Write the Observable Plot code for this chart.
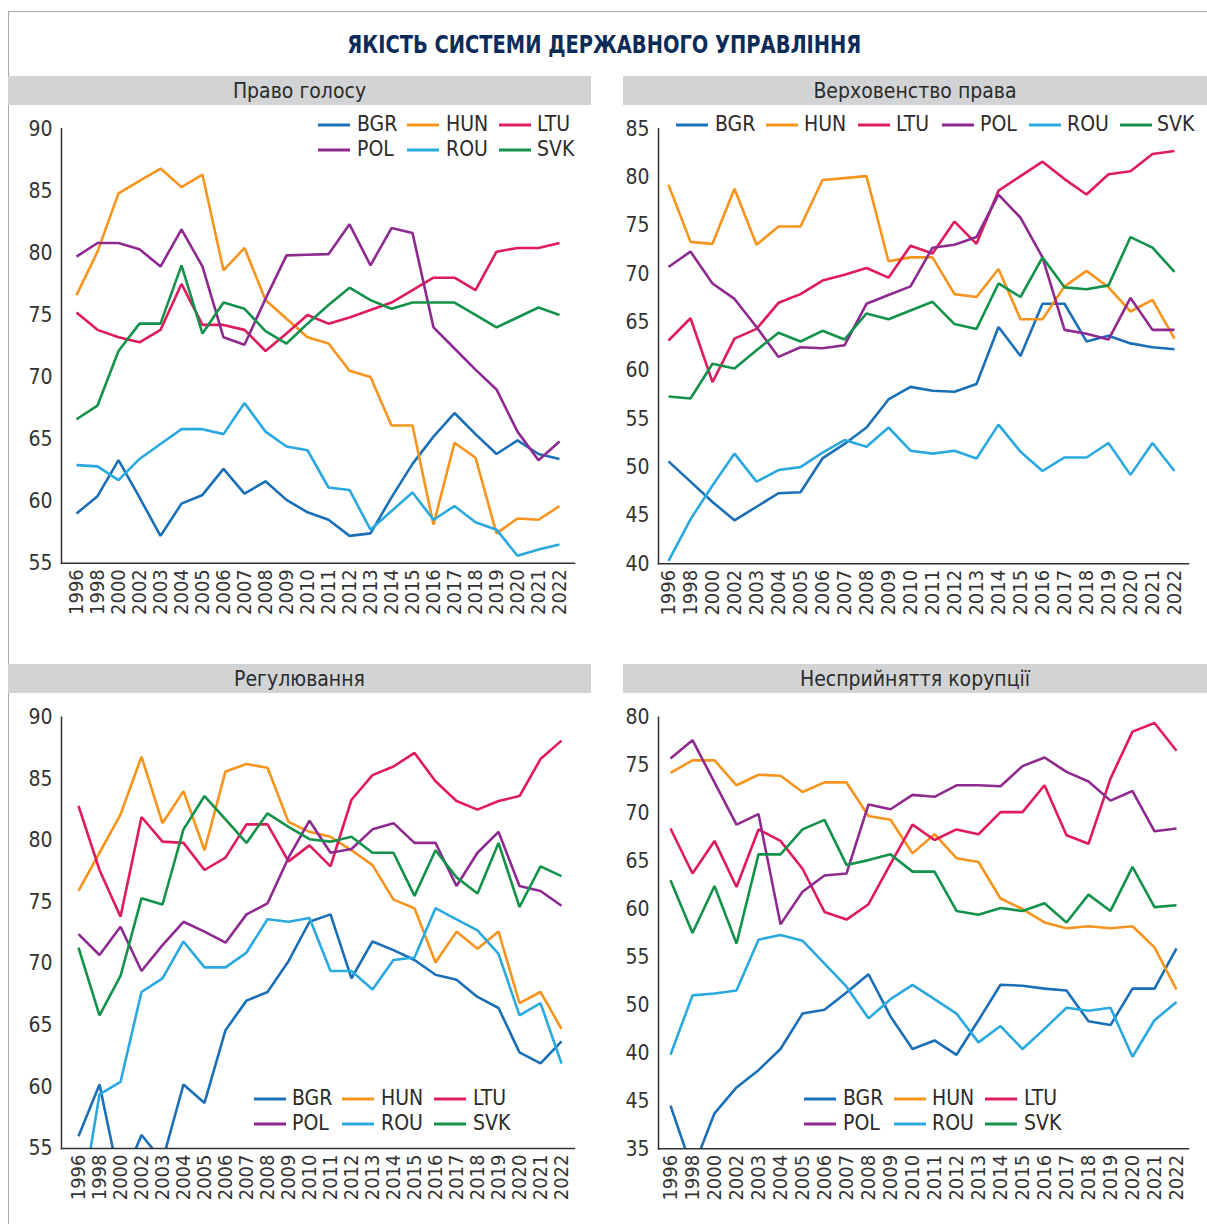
<!DOCTYPE html>
<html>
<head>
<meta charset="utf-8">
<script src="https://cdn.jsdelivr.net/npm/d3@7"></script>
<script src="https://cdn.jsdelivr.net/npm/@observablehq/plot@0.6"></script>
<style>
  html, body { margin: 0; padding: 0; background: #fff; }
  #root { position: relative; width: 1207px; height: 1224px; overflow: hidden; background: #fff;
    font-family: "Liberation Sans Narrow", "DejaVu Sans Condensed", "Roboto", sans-serif; }
  .frame-top { position: absolute; left: 8px; top: 11px; width: 1199px; height: 0; border-top: 1.5px solid #a7a9ac; }
  .frame-left { position: absolute; left: 7.5px; top: 11px; width: 0; height: 1213px; border-left: 1.5px solid #a7a9ac; }
  .title { position: absolute; left: 0; width: 1207px; top: 31px; text-align: center; font-weight: bold;
    font-size: 24px; color: #0b2b59; transform: scaleX(0.9); transform-origin: 612px 0; }
  .bar { position: absolute; height: 29px; background: #d1d3d4; color: #2b2b2b; font-size: 21px;
    text-align: center; line-height: 30px; }
  .panel { position: absolute; }
</style>
</head>
<body>
<div id="root">
  <div class="frame-top"></div>
  <div class="frame-left"></div>
  <div class="title">ЯКІСТЬ СИСТЕМИ ДЕРЖАВНОГО УПРАВЛІННЯ</div>
</div>
<script>
// ---------- data ----------
const years = ["1996","1998","2000","2002","2003","2004","2005","2006","2007","2008","2009","2010","2011","2012","2013","2014","2015","2016","2017","2018","2019","2020","2021","2022"];
const countries = ["BGR","HUN","LTU","POL","ROU","SVK"];
const colors = ["#1a6fb7","#f7941d","#e01a5b","#8e2a8f","#2aa9e0","#12924a"];
const panelTitles = ["Право голосу","Верховенство права","Регулювання","Несприйняття корупції"];

// Право голосу (Voice and accountability)
const voiceBGR = [59.0,60.4,63.3,60.3,57.2,59.8,60.5,62.6,60.6,61.6,60.1,59.1,58.5,57.2,57.4,60.3,63.0,65.2,67.1,65.4,63.8,64.9,63.8,63.4];
const voiceHUN = [76.6,80.1,84.8,85.8,86.8,85.3,86.3,78.6,80.4,76.2,74.7,73.2,72.7,70.5,70.0,66.1,66.1,58.1,64.7,63.5,57.4,58.6,58.5,59.6];
const voiceLTU = [75.2,73.8,73.2,72.8,73.8,77.5,74.2,74.2,73.8,72.1,73.5,75.0,74.3,74.8,75.4,76.0,77.0,78.0,78.0,77.0,80.1,80.4,80.4,80.8];
const voicePOL = [79.7,80.8,80.8,80.3,78.9,81.9,78.9,73.2,72.6,76.3,79.8,79.85,79.9,82.3,79.0,82.0,81.6,74.0,72.3,70.6,69.0,65.6,63.3,64.8];
const voiceROU = [62.9,62.8,61.7,63.4,64.6,65.8,65.8,65.4,67.9,65.6,64.4,64.1,61.1,60.9,57.7,59.2,60.7,58.5,59.6,58.3,57.7,55.6,56.1,56.5];
const voiceSVK = [66.6,67.7,72.1,74.3,74.3,79.0,73.5,76.0,75.5,73.7,72.7,74.3,75.8,77.2,76.2,75.5,76.0,76.0,76.0,75.0,74.0,74.8,75.6,75.0];

// Верховенство права (Rule of law)
const lawBGR = [50.6,48.5,46.4,44.5,45.9,47.3,47.4,50.9,52.4,54.1,57.0,58.3,57.9,57.8,58.6,64.5,61.5,66.9,66.9,63.0,63.6,62.8,62.4,62.2];
const lawHUN = [79.2,73.3,73.1,78.8,73.0,74.9,74.9,79.7,79.9,80.1,71.3,71.7,71.7,67.9,67.6,70.5,65.3,65.3,68.7,70.3,68.6,66.1,67.3,63.3];
const lawLTU = [63.1,65.4,58.8,63.3,64.3,67.0,67.9,69.3,69.9,70.6,69.6,72.9,72.1,75.4,73.1,78.6,80.1,81.6,79.8,78.2,80.3,80.6,82.4,82.7];
const lawPOL = [70.7,72.3,69.0,67.4,64.5,61.4,62.4,62.3,62.6,66.9,67.8,68.7,72.7,73.0,73.8,78.2,75.8,71.7,64.2,63.8,63.2,67.5,64.2,64.2];
const lawROU = [40.3,44.6,48.1,51.4,48.5,49.7,50.0,51.5,52.8,52.1,54.1,51.7,51.4,51.7,50.9,54.4,51.6,49.6,51.0,51.0,52.5,49.2,52.5,49.6];
const lawSVK = [57.3,57.1,60.7,60.2,62.1,63.9,63.0,64.1,63.2,65.9,65.3,66.2,67.1,64.8,64.3,69.0,67.6,71.7,68.6,68.4,68.8,73.8,72.7,70.2];

// Регулювання (Regulatory quality)
const regBGR = [56.0,60.2,52.0,56.1,54.0,60.2,58.7,64.6,67.0,67.7,70.2,73.4,74.0,68.8,71.8,71.1,70.3,69.1,68.7,67.3,66.4,62.8,61.9,63.7];
const regHUN = [75.9,79.0,82.1,86.8,81.4,84.0,79.2,85.6,86.2,85.9,81.5,80.7,80.3,79.2,78.0,75.2,74.5,70.1,72.6,71.2,72.6,66.8,67.7,64.7];
const regLTU = [82.8,77.6,73.8,81.9,79.9,79.8,77.6,78.6,81.3,81.3,78.3,79.6,77.9,83.3,85.3,86.0,87.1,84.8,83.2,82.5,83.2,83.6,86.6,88.1];
const regPOL = [72.4,70.7,73.0,69.4,71.5,73.4,72.6,71.7,74.0,74.9,78.6,81.6,79.0,79.3,80.9,81.4,79.8,79.8,76.3,79.0,80.7,76.3,75.9,74.7];
const regROU = [49.0,59.4,60.4,67.7,68.8,71.8,69.7,69.7,70.9,73.6,73.4,73.7,69.4,69.4,67.9,70.3,70.5,74.5,73.6,72.7,70.8,65.8,66.8,61.9];
const regSVK = [71.3,65.8,69.0,75.3,74.8,80.9,83.6,81.7,79.8,82.2,81.1,80.1,79.9,80.3,79.0,79.0,75.5,79.2,77.0,75.7,79.8,74.6,77.9,77.1];

// Несприйняття корупції (Control of corruption) — values as placed on the printed axis
const corBGR = [39.5,32.8,38.7,41.4,43.2,45.4,49.1,49.5,51.3,53.2,48.8,45.4,46.3,44.8,48.4,52.1,52.0,51.7,51.5,48.3,47.9,51.7,51.7,55.9];
const corHUN = [74.2,75.5,75.5,72.9,74.0,73.9,72.2,73.2,73.2,69.7,69.3,65.8,67.8,65.3,64.9,61.1,60.0,58.6,58.0,58.2,58.0,58.2,56.0,51.6];
const corLTU = [68.4,63.7,67.1,62.3,68.3,67.1,64.2,59.7,58.9,60.5,64.7,68.8,67.2,68.3,67.8,70.1,70.1,72.9,67.7,66.8,73.6,78.5,79.4,76.5];
const corPOL = [75.7,77.6,73.2,68.8,69.9,58.4,61.8,63.5,63.7,70.9,70.4,71.9,71.7,72.9,72.9,72.8,74.9,75.8,74.3,73.3,71.3,72.3,68.1,68.4];
const corROU = [44.8,51.0,51.2,51.5,56.8,57.3,56.7,54.3,51.9,48.6,50.6,52.1,50.6,49.1,46.1,47.8,45.4,47.5,49.7,49.4,49.7,44.6,48.4,50.3];
const corSVK = [63.0,57.5,62.4,56.4,65.7,65.7,68.3,69.3,64.6,65.1,65.7,63.9,63.9,59.8,59.4,60.1,59.8,60.6,58.6,61.5,59.8,64.4,60.2,60.4];

// tick values and their printed labels
const voiceTicks = [55,60,65,70,75,80,85,90];
const lawTicks = [40,45,50,55,60,65,70,75,80,85];
const regTicks = [55,60,65,70,75,80,85,90];
const corTicks = [35,40,45,50,55,60,65,70,75,80];
const corTickLabels = ["35","45","40","50","55","60","65","70","75","80"];

// ---------- build ----------
function toRows(seriesList) {
  const rows = [];
  seriesList.forEach((vals, i) => vals.forEach((v, j) => rows.push({country: countries[i], year: years[j], value: v})));
  return rows;
}

const FONT = '"Liberation Sans Narrow", "DejaVu Sans Condensed", "Roboto", sans-serif';
const root = document.getElementById("root");

function addBar(text, left, right, top) {
  const d = document.createElement("div");
  d.className = "bar";
  d.style.left = left + "px"; d.style.width = (right - left) + "px"; d.style.top = top + "px";
  d.textContent = text;
  root.appendChild(d);
}

function addPanel(cfg) {
  const rows = toRows(cfg.series);
  const chart = Plot.plot({
    width: cfg.width, height: cfg.height,
    marginLeft: cfg.mL, marginRight: cfg.mR, marginTop: cfg.mT, marginBottom: cfg.mB,
    style: {fontFamily: FONT, fontSize: "20px", color: "#333", background: "transparent", overflow: "visible"},
    x: {type: "point", domain: years, padding: 0, insetLeft: cfg.iL, insetRight: cfg.iR, label: null},
    y: {domain: cfg.domain, label: null},
    color: {domain: countries, range: colors},
    marks: [
      Plot.axisY({ticks: cfg.ticks, tickSize: 0, tickPadding: 9, fontSize: 21,
        tickFormat: cfg.tickFormat || (d => String(d)), label: null}),
      Plot.axisX({tickSize: 0, tickRotate: -90, tickPadding: 6, fontSize: 20, label: null}),
      Plot.line(rows, {x: "year", y: "value", z: "country", stroke: "country", strokeWidth: 2.6,
        clip: true, strokeLinejoin: "miter", strokeLinecap: "butt"}),
      Plot.frame({anchor: "left", stroke: "#333", strokeWidth: 1.5}),
      Plot.frame({anchor: "bottom", stroke: "#333", strokeWidth: 1.5})
    ]
  });
  const wrap = document.createElement("div");
  wrap.className = "panel";
  wrap.style.left = cfg.left + "px"; wrap.style.top = cfg.top + "px";
  wrap.appendChild(chart);
  root.appendChild(wrap);
}

function addLegend(items) {
  items.forEach(it => {
    const i = countries.indexOf(it.country);
    const sw = document.createElementNS("http://www.w3.org/2000/svg", "svg");
    sw.setAttribute("width", 32); sw.setAttribute("height", 6);
    sw.style.position = "absolute"; sw.style.left = it.sx + "px"; sw.style.top = (it.y - 2) + "px";
    const ln = document.createElementNS("http://www.w3.org/2000/svg", "line");
    ln.setAttribute("x1", 0); ln.setAttribute("x2", 32); ln.setAttribute("y1", 3); ln.setAttribute("y2", 3);
    ln.setAttribute("stroke", colors[i]); ln.setAttribute("stroke-width", 3);
    sw.appendChild(ln);
    root.appendChild(sw);
    const t = document.createElement("div");
    t.textContent = it.country;
    t.style.cssText = `position:absolute;left:${it.tx}px;top:${it.y - 12}px;font-size:21px;line-height:24px;color:#2b2b2b;font-family:${FONT};`;
    root.appendChild(t);
  });
}

// header bars
addBar(panelTitles[0], 8, 591, 76);
addBar(panelTitles[1], 623, 1207, 76);
addBar(panelTitles[2], 8, 591, 664);
addBar(panelTitles[3], 623, 1207, 664);

// panels
addPanel({series: [voiceBGR, voiceHUN, voiceLTU, voicePOL, voiceROU, voiceSVK], domain: [55, 90], ticks: voiceTicks,
  left: 0, top: 110, width: 600, height: 520, mL: 61, mR: 26, mT: 18.3, mB: 520 - 452.7, iL: 10, iR: 9.5});
addPanel({series: [lawBGR, lawHUN, lawLTU, lawPOL, lawROU, lawSVK], domain: [40, 85], ticks: lawTicks,
  left: 600, top: 110, width: 607, height: 520, mL: 58, mR: 19, mT: 18.3, mB: 520 - 453.3, iL: 7, iR: 12});
addPanel({series: [regBGR, regHUN, regLTU, regPOL, regROU, regSVK], domain: [55, 90], ticks: regTicks,
  left: 0, top: 698, width: 600, height: 520, mL: 61, mR: 26, mT: 18.7, mB: 520 - 450, iL: 15, iR: 11});
addPanel({series: [corBGR, corHUN, corLTU, corPOL, corROU, corSVK], domain: [35, 80], ticks: corTicks,
  tickFormat: d => corTickLabels[corTicks.indexOf(d)],
  left: 600, top: 698, width: 607, height: 520, mL: 58, mR: 19, mT: 18.7, mB: 520 - 450.3, iL: 12, iR: 12});

// legends
addLegend([
  {country: "BGR", sx: 318, tx: 357, y: 124}, {country: "HUN", sx: 407, tx: 446, y: 124}, {country: "LTU", sx: 499, tx: 537, y: 124},
  {country: "POL", sx: 318, tx: 357, y: 149}, {country: "ROU", sx: 407, tx: 446, y: 149}, {country: "SVK", sx: 499, tx: 537, y: 149}
]);
addLegend([
  {country: "BGR", sx: 676, tx: 715, y: 124}, {country: "HUN", sx: 766, tx: 804, y: 124}, {country: "LTU", sx: 858, tx: 896, y: 124},
  {country: "POL", sx: 942, tx: 980, y: 124}, {country: "ROU", sx: 1029, tx: 1067, y: 124}, {country: "SVK", sx: 1120, tx: 1157, y: 124}
]);
addLegend([
  {country: "BGR", sx: 254, tx: 292, y: 1098}, {country: "HUN", sx: 342, tx: 381, y: 1098}, {country: "LTU", sx: 434, tx: 473, y: 1098},
  {country: "POL", sx: 254, tx: 292, y: 1123}, {country: "ROU", sx: 342, tx: 381, y: 1123}, {country: "SVK", sx: 434, tx: 473, y: 1123}
]);
addLegend([
  {country: "BGR", sx: 804, tx: 843, y: 1098}, {country: "HUN", sx: 894, tx: 932, y: 1098}, {country: "LTU", sx: 985, tx: 1024, y: 1098},
  {country: "POL", sx: 804, tx: 843, y: 1123}, {country: "ROU", sx: 894, tx: 932, y: 1123}, {country: "SVK", sx: 985, tx: 1024, y: 1123}
]);
</script>
</body>
</html>
